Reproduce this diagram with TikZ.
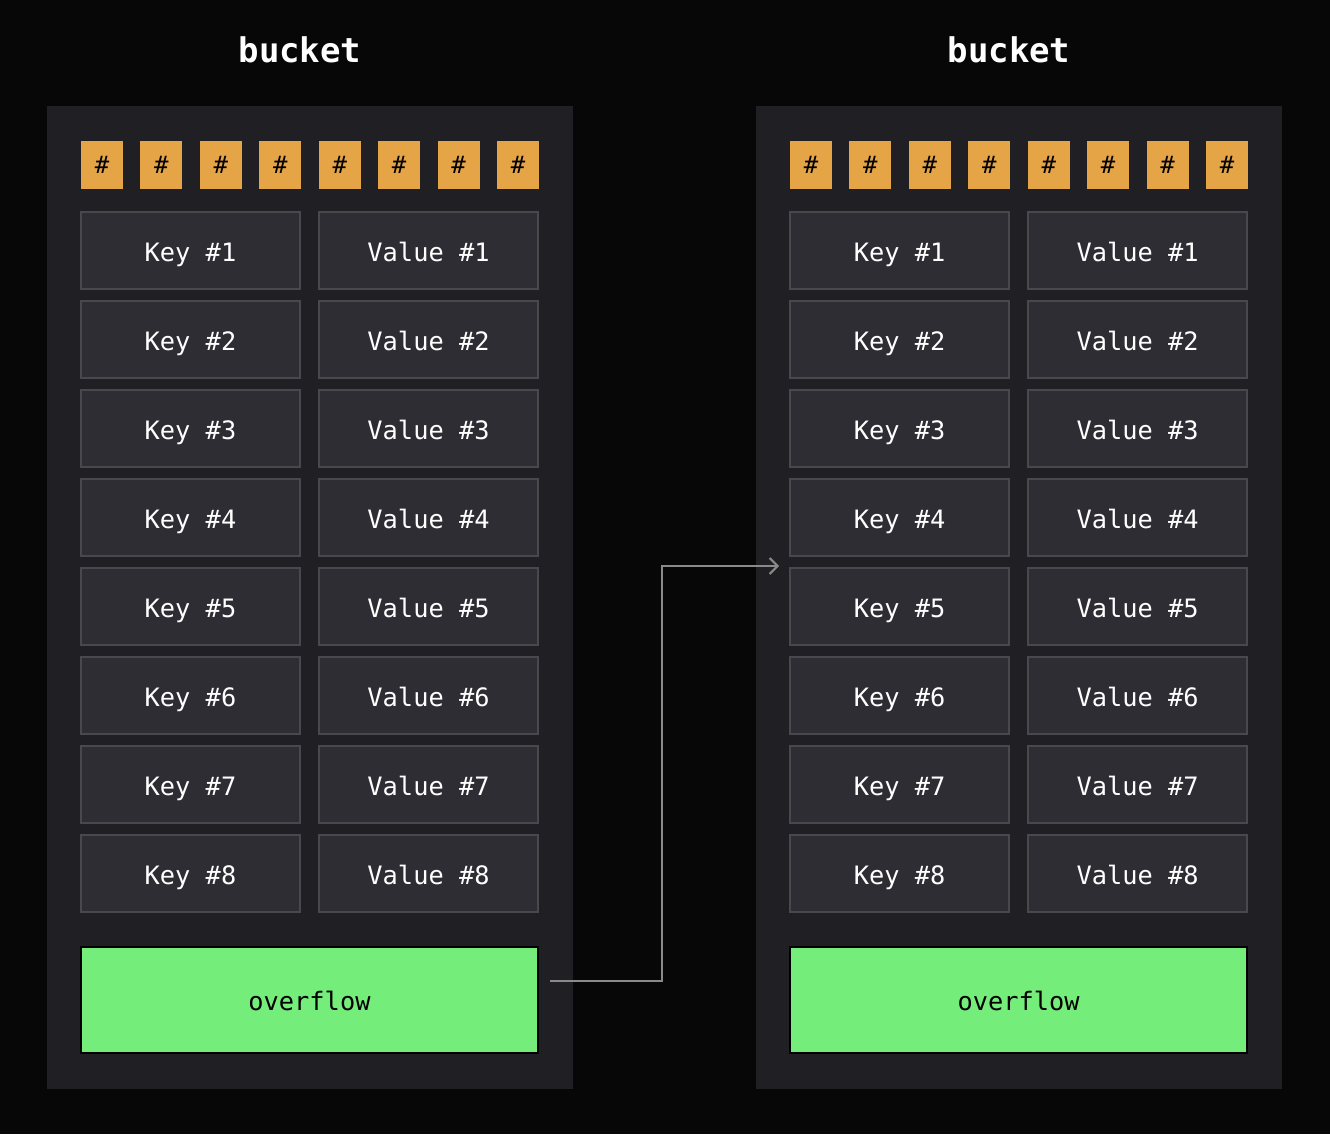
\documentclass[tikz,border=0pt]{standalone}
\usepackage{fontspec}
\setmonofont{DejaVu Sans Mono}
\usetikzlibrary{arrows.meta,calc}
\definecolor{bgc}{HTML}{070707}
\definecolor{panelc}{HTML}{1F1F24}
\definecolor{keyc}{HTML}{2D2D33}
\definecolor{keyb}{HTML}{48484D}
\definecolor{hashc}{HTML}{E5A445}
\definecolor{ovfc}{HTML}{75ED7B}
\definecolor{arrc}{HTML}{8A8A8A}
\begin{document}
\begin{tikzpicture}[x=0.75pt,y=-0.75pt,
  panelbox/.style={fill=panelc,draw=none,inner sep=0pt,outer sep=0pt,minimum width=394.5pt,minimum height=737.25pt},
  titletext/.style={text=white,font=\ttfamily\bfseries\fontsize{25.5}{30}\selectfont,inner sep=0pt},
  hashbox/.style={fill=hashc,draw=none,inner sep=0pt,outer sep=0pt,minimum width=31.5pt,minimum height=36pt,text=black,font=\ttfamily\fontsize{18}{20}\selectfont},
  kvbox/.style={fill=keyc,draw=keyb,line width=1.1pt,inner sep=0pt,outer sep=0pt,minimum width=164.25pt,minimum height=57.75pt,text=white,font=\ttfamily\fontsize{19}{22}\selectfont,text height=17pt,text depth=1pt},
  ovfbox/.style={fill=ovfc,draw=black,line width=1.1pt,inner sep=0pt,outer sep=0pt,minimum width=342.75pt,minimum height=79.5pt,text=black,font=\ttfamily\fontsize{19}{22}\selectfont,text height=17pt,text depth=1pt},
  conn/.style={draw=arrc,line width=1.5pt,-{Straight Barb[length=6pt,width=12pt,line width=1.5pt]}}
]
\fill[bgc] (0,0) rectangle (1330,1134);
\useasboundingbox (0,0) rectangle (1330,1134);
\foreach \p/\dx in {l/0,r/709}{
  \begin{scope}[xshift={\dx*0.75pt}]
    \node[panelbox] (\p panel) at (310,597.5) {};
    \node[titletext] (\p title) at (300,50) {bucket};
    \foreach \i in {1,...,8}{
      \node[hashbox] (\p h\i) at ({102+(\i-1)*59.43},165) {\#};
      \node[kvbox] (\p k\i) at (190.5,{250.5+(\i-1)*89}) {Key \#\i};
      \node[kvbox] (\p v\i) at (428.5,{250.5+(\i-1)*89}) {Value \#\i};
    }
    \node[ovfbox] (\p o) at (309.5,1000) {overflow};
  \end{scope}
}
\coordinate (s) at ($(lo.east)+(12,-19)$);
\coordinate (t) at ($($(rk4.south west)!0.5!(rk5.north west)$)+(-11,4)$);
\coordinate (m) at ($($(lpanel.east)!0.5!(rpanel.west)$)+(-2.5,0)$);
\draw[conn] (s) -| (m |- t) -- (t);
\end{tikzpicture}
\end{document}
